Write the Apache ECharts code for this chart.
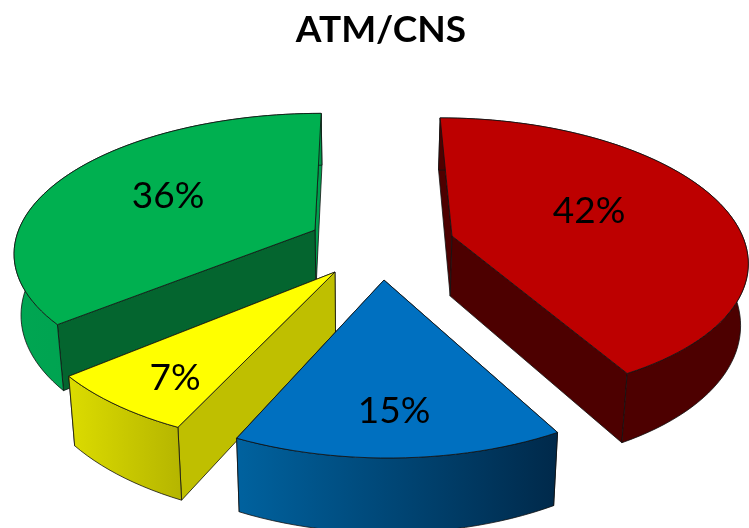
<!DOCTYPE html>
<html><head><meta charset="utf-8">
<style>html,body{margin:0;padding:0;background:#fff}#c{width:749px;height:528px}</style>
<script src="https://cdn.jsdelivr.net/npm/echarts@6/dist/echarts.min.js"></script>
</head><body><div id="c"></div>
<script>
(function () {
// Data
const titleText = 'ATM/CNS';
const values = [42, 15, 7, 36];
const percentLabels = ['42%', '15%', '7%', '36%'];

// Style and layout (perspective pie with exploded slices)
const topColors  = ['#bd0000', '#0070c0', '#ffff00', '#00b050'];
const edgeColors = ['#4d0000', '#00355f', '#bfbf00', '#04652f'];
const backEdge   = ['#4d0000', '#00355f', '#bfbf00', '#00a04e'];
const wallStops  = [['#4d0000', '#4d0000'], ['#00629f', '#00294a'], ['#dcdc00', '#b5b500'], ['#00a652', '#00964a']];
const apexes     = [[452, 236], [384, 280], [335, 272], [315, 230]];
const radiusU    = [295, 294, 300, 303];
const radiusV    = [0.154, 0.154, 0.154, 0.154];
const labelAt    = [[589, 211], [394, 411], [175, 378], [168, 196]];
const drawOrder  = [2, 4, 3, 1];
const VX = 362, VY = -661, Q = 911, DEPTH = 61, LEAN = 0.02;

const total = values.reduce((a, b) => a + b, 0);
const starts = [];
values.reduce((acc, v, i) => { starts[i] = acc; return acc + v; }, 0);

function screen(U, w) {
  const s = 1 / w;
  return { x: VX + U * s, y: VY + Q * s, s };
}
function project(i, theta) {
  const [ax, ay] = apexes[i];
  const s0 = (ay - VY) / Q;
  return screen((ax - VX) / s0 + radiusU[i] * Math.sin(theta), 1 / s0 + radiusV[i] * Math.cos(theta));
}
function apexPoint(i) {
  const [ax, ay] = apexes[i];
  const s0 = (ay - VY) / Q;
  return screen((ax - VX) / s0, 1 / s0);
}
const upper = p => [p.x, p.y];
const lower = p => [p.x + (VX - p.x) * LEAN, p.y + DEPTH * p.s];
const line = { stroke: '#111', lineWidth: 0.8, lineJoin: 'round' };

function poly(points, fill, z2) {
  return { type: 'polygon', z2, shape: { points }, style: Object.assign({ fill }, line) };
}

function renderItem(params, api) {
  const i = api.value(0);
  const value = api.value(1);
  const a0 = starts[i] / total * 2 * Math.PI;
  const a1 = a0 + value / total * 2 * Math.PI;
  const base = drawOrder[i] * 10;
  const arc = [];
  const n = Math.max(8, Math.round((a1 - a0) / (Math.PI / 90)));
  for (let k = 0; k <= n; k++) arc.push(project(i, a0 + (a1 - a0) * k / n));
  const c = apexPoint(i);
  const first = arc[0], last = arc[arc.length - 1];
  const children = [];
  const side = (p) => poly([upper(c), upper(p), lower(p), lower(c)], p.y > c.y ? edgeColors[i] : backEdge[i], base);
  // the radial wall that ends higher on the page lies behind the other one
  (first.y < last.y ? [first, last] : [last, first]).forEach(p => children.push(side(p)));
  const wall = arc.map(upper).concat(arc.slice().reverse().map(lower));
  children.push(poly(wall, {
    type: 'linear', x: 0, y: 0, x2: 1, y2: 0,
    colorStops: [{ offset: 0, color: wallStops[i][0] }, { offset: 1, color: wallStops[i][1] }]
  }, base + 1));
  children.push(poly([upper(c)].concat(arc.map(upper)), topColors[i], base + 2));
  children.push({
    type: 'text', z2: base + 3,
    style: { x: labelAt[i][0], y: labelAt[i][1], text: percentLabels[i], fill: '#000',
             font: '37px Lato', align: 'center', verticalAlign: 'middle' }
  });
  return { type: 'group', children };
}

const chart = echarts.init(document.getElementById('c'), null, { renderer: 'canvas' });
chart.setOption({
  animation: false,
  backgroundColor: '#fff',
  title: {
    text: titleText, left: 376, top: 7, textAlign: 'center',
    textStyle: { fontFamily: 'Lato', fontWeight: 'bold', fontSize: 37, color: '#000' }
  },
  series: [{
    type: 'custom',
    coordinateSystem: 'none',
    renderItem,
    clip: false,
    data: values.map((v, i) => [i, v])
  }]
});
})();
</script></body></html>
